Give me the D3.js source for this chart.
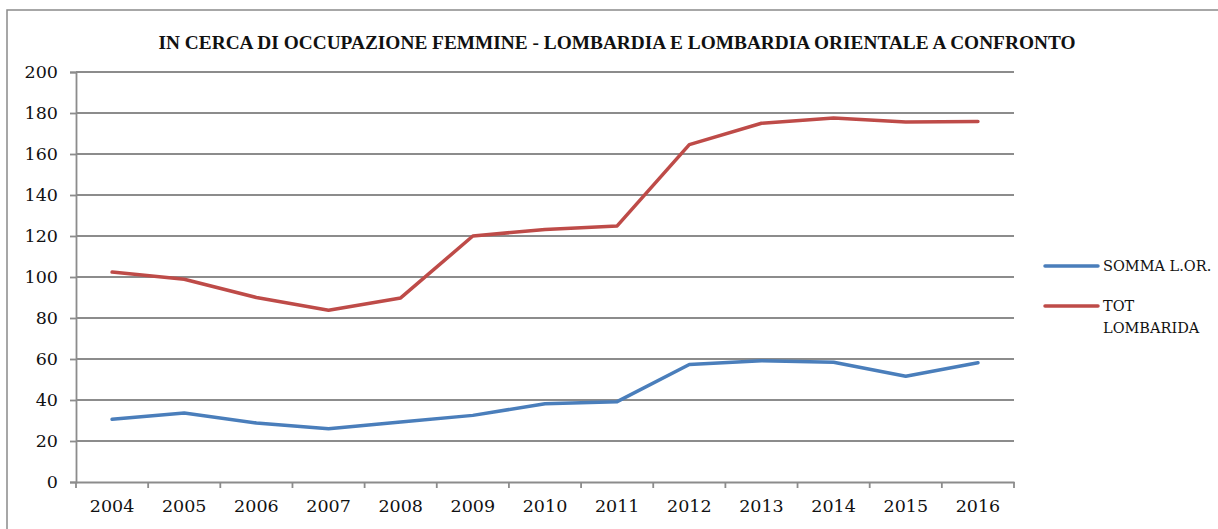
<!DOCTYPE html>
<html>
<head>
<meta charset="utf-8">
<script src="https://cdn.jsdelivr.net/npm/d3@7"></script>
<style>
  body { margin: 0; background: #fff; }
</style>
</head>
<body>
<div id="wrapper"></div>
<script>
const years = ["2004","2005","2006","2007","2008","2009","2010","2011","2012","2013","2014","2015","2016"]
const sommaLOR = [30.6, 33.7, 28.8, 26.0, 29.3, 32.5, 38.2, 39.2, 57.3, 59.2, 58.4, 51.6, 58.2]
const totLombardia = [102.4, 98.9, 90.0, 83.8, 89.8, 120.0, 123.2, 124.9, 164.6, 175.0, 177.6, 175.6, 175.8]
const yTicks = [0, 20, 40, 60, 80, 100, 120, 140, 160, 180, 200]
const seriesNames = ["SOMMA L.OR.", "TOT LOMBARIDA"]
const seriesColors = ["#4a7ebb", "#be4b48"]

function drawLineChart(){
    let dimensions = {
        width: 1218,
        height: 529,
        margin: { top: 72, right: 204, bottom: 47, left: 76 },
    }
    dimensions.boundedWidth = dimensions.width - dimensions.margin.left - dimensions.margin.right
    dimensions.boundedHeight = dimensions.height - dimensions.margin.top - dimensions.margin.bottom

    const wrapper = d3.select("#wrapper")
        .append("svg")
        .attr("width", dimensions.width)
        .attr("height", dimensions.height)
        .style("display", "block")

    // outer chart border
    wrapper.append("rect")
        .attr("x", 7).attr("y", 10)
        .attr("width", 1230).attr("height", 540)
        .attr("fill", "none")
        .attr("stroke", "#8a8a8a")
        .attr("stroke-width", 1.5)

    wrapper.append("text")
        .attr("x", 617).attr("y", 49)
        .attr("text-anchor", "middle")
        .attr("font-family", "Liberation Serif")
        .attr("font-weight", "bold")
        .attr("font-size", 18.5)
        .attr("textLength", 917)
        .attr("lengthAdjust", "spacingAndGlyphs")
        .attr("fill", "#111")
        .text("IN CERCA DI OCCUPAZIONE FEMMINE - LOMBARDIA E LOMBARDIA ORIENTALE A CONFRONTO")

    const bounds = wrapper.append("g")
        .attr("transform", `translate(${dimensions.margin.left},${dimensions.margin.top})`)

    const yScale = d3.scaleLinear()
        .domain([0, 200])
        .range([dimensions.boundedHeight, 0])

    const xScale = d3.scaleBand()
        .domain(years)
        .range([0, dimensions.boundedWidth])

    // gridlines
    bounds.append("g")
        .selectAll("line")
        .data(yTicks.filter(d => d > 0))
        .join("line")
        .attr("x1", 0).attr("x2", dimensions.boundedWidth)
        .attr("y1", d => yScale(d)).attr("y2", d => yScale(d))
        .attr("stroke", "#8c8c8c")
        .attr("stroke-width", 1.8)

    const yAxis = bounds.append("g")
        .call(d3.axisLeft(yScale).tickValues(yTicks).tickSize(6).tickPadding(12))
    yAxis.select(".domain").attr("stroke", "#8c8c8c").attr("stroke-width", 1.8)
    yAxis.selectAll(".tick line").attr("stroke", "#8c8c8c").attr("stroke-width", 1.8)
    yAxis.selectAll(".tick text")
        .attr("font-family", "DejaVu Serif")
        .attr("font-size", 17.5)
        .attr("fill", "#111")

    const xAxis = bounds.append("g")
        .attr("transform", `translate(0,${dimensions.boundedHeight})`)
        .call(d3.axisBottom(xScale).tickSize(0).tickPadding(18))
    xAxis.select(".domain").attr("stroke", "#8c8c8c").attr("stroke-width", 1.8)
    xAxis.selectAll(".tick text")
        .attr("font-family", "DejaVu Serif")
        .attr("font-size", 17.5)
        .attr("fill", "#111")

    // tick marks on band boundaries
    const boundaries = years.map(d => xScale(d)).concat([dimensions.boundedWidth])
    bounds.append("g")
        .selectAll("line")
        .data(boundaries)
        .join("line")
        .attr("x1", d => d).attr("x2", d => d)
        .attr("y1", dimensions.boundedHeight).attr("y2", dimensions.boundedHeight + 6)
        .attr("stroke", "#8c8c8c")
        .attr("stroke-width", 1.8)

    const lineGenerator = d3.line()
        .x((d, i) => xScale(years[i]) + xScale.bandwidth() / 2)
        .y(d => yScale(d))

    const seriesData = [sommaLOR, totLombardia]
    seriesData.forEach((values, i) => {
        bounds.append("path")
            .attr("d", lineGenerator(values))
            .attr("fill", "none")
            .attr("stroke", seriesColors[i])
            .attr("stroke-width", 3.5)
            .attr("stroke-linejoin", "round")
            .attr("stroke-linecap", "round")
    })

    // legend
    const legend = wrapper.append("g")
        .attr("transform", "translate(1045,266)")
    seriesNames.forEach((name, i) => {
        const row = legend.append("g").attr("transform", `translate(0,${i * 40})`)
        row.append("line")
            .attr("x1", 0).attr("x2", 53)
            .attr("stroke", seriesColors[i])
            .attr("stroke-width", 3.5)
            .attr("stroke-linecap", "round")
        const words = i === 1 ? ["TOT", "LOMBARIDA"] : [name]
        const text = row.append("text")
            .attr("font-family", "DejaVu Serif")
            .attr("font-size", 14.5)
            .attr("fill", "#111")
        words.forEach((w, j) => {
            text.append("tspan")
                .attr("x", 58)
                .attr("y", 5 + j * 22)
                .text(w)
        })
    })
}
drawLineChart()
</script>
</body>
</html>
